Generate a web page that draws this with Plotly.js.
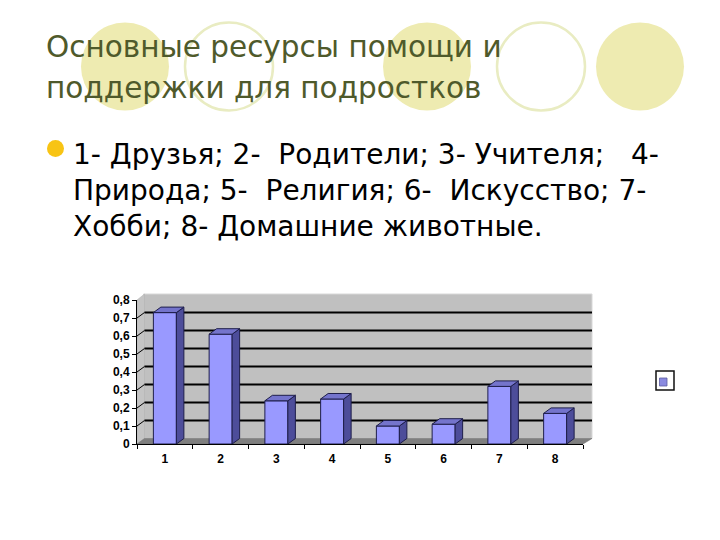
<!DOCTYPE html>
<html>
<head>
<meta charset="utf-8">
<script src="https://cdn.plot.ly/plotly-3.0.1.min.js"></script>
<style>html,body{margin:0;padding:0;background:#fff;}#chart{width:720px;height:540px;}</style>
</head>
<body>
<div id="chart"></div>
<script>
// ---- data ----
const categories = ['1', '2', '3', '4', '5', '6', '7', '8'];
const values = [0.73, 0.61, 0.24, 0.25, 0.10, 0.11, 0.32, 0.17];
const yTicks = [0, 0.1, 0.2, 0.3, 0.4, 0.5, 0.6, 0.7, 0.8];
const titleLines = ['Основные ресурсы помощи и', 'поддержки для подростков'];
const bulletLines = [
  '1- Друзья; 2-  Родители; 3- Учителя;   4-',
  'Природа; 5-  Религия; 6-  Искусство; 7-',
  'Хобби; 8- Домашние животные.'
];

// ---- geometry / style ----
const X0 = 137, X1 = 592, Y0 = 294, Y1 = 444;     // paper area in px
const FRONT_RIGHT = 583, FRONT_TOP = 300;         // front axes box
const DX = 7.5, DY = 5.5;                         // 3D depth offset (px)
const YMAX = 0.8;
const DYD = DY * YMAX / (Y1 - FRONT_TOP);         // depth offset in data units
const CAT_PX = (FRONT_RIGHT - X0) / categories.length;
const BAR_PX = 23, W = BAR_PX / 2;
const P = (px, py) => ({x: (px - X0) / (X1 - X0), y: (Y1 - py) / (Y1 - Y0)});
const FONT = 'Liberation Sans, Arial, sans-serif';
const TEXT_FONT = 'DejaVu Sans, Liberation Sans, sans-serif';
const nb = s => s.replace(/ /g, '\u00A0');

const shapes = [];
// decorative circles
[[125, false], [229, true], [427, false], [541, true], [640, false]].forEach(([cx, outline]) => {
  const r = 44, cy = 66.5;
  const a = P(cx - r, cy + r), b = P(cx + r, cy - r);
  shapes.push({type: 'circle', xref: 'paper', yref: 'paper', layer: 'below',
    x0: a.x, y0: a.y, x1: b.x, y1: b.y,
    fillcolor: outline ? 'rgba(0,0,0,0)' : '#EEEBB1',
    line: {color: outline ? '#E9ECC2' : 'rgba(0,0,0,0)', width: outline ? 2.5 : 0}});
});
// bullet dot
{ const a = P(47, 157), b = P(64, 140);
  shapes.push({type: 'circle', xref: 'paper', yref: 'paper', layer: 'below',
    x0: a.x, y0: a.y, x1: b.x, y1: b.y, fillcolor: '#F8C414', line: {width: 0}}); }

// walls & floor
const pth = pts => 'M' + pts.map(([px, py]) => { const q = P(px, py); return q.x + ',' + q.y; }).join(' L') + ' Z';
shapes.push({type: 'path', xref: 'paper', yref: 'paper', layer: 'below',
  path: pth([[X0 + DX - 1, Y1 - DY], [X0 + DX - 1, Y0], [X1, Y0], [X1, Y1 - DY]]),
  fillcolor: '#C0C0C0', line: {color: '#D8D8D8', width: 1}});
shapes.push({type: 'path', xref: 'paper', yref: 'paper', layer: 'below',
  path: pth([[X0, Y1], [X0, FRONT_TOP], [X0 + DX, Y0], [X0 + DX, Y1 - DY]]),
  fillcolor: '#C4C4C4', line: {color: '#B0B0B0', width: 0.5}});
shapes.push({type: 'path', xref: 'paper', yref: 'paper', layer: 'below',
  path: pth([[X0, Y1], [FRONT_RIGHT, Y1], [X1, Y1 - DY], [X0 + DX, Y1 - DY]]),
  fillcolor: '#7F7F7F', line: {color: '#6A6A6A', width: 0.5}});
// gridlines on the back wall and left wall
yTicks.filter(v => v > 0 && v < YMAX).forEach(v => {
  shapes.push({type: 'line', xref: 'paper', yref: 'y', ysizemode: 'pixel', yanchor: v,
    x0: P(X0 + DX, 0).x, x1: 1, y0: DY, y1: DY, layer: 'below',
    line: {color: '#000000', width: 1.8}});
  shapes.push({type: 'line', xref: 'paper', yref: 'y', ysizemode: 'pixel', yanchor: v,
    x0: 0, x1: P(X0 + DX, 0).x, y0: 0, y1: DY, layer: 'below',
    line: {color: '#000000', width: 1}});
});
// 3D side and top faces of bars (anchored at the category position)
categories.forEach((c, i) => {
  const v = values[i];
  shapes.push({type: 'path', xref: 'x', yref: 'y', xsizemode: 'pixel', xanchor: i, layer: 'above',
    path: `M${W},0 L${W + DX},${DYD} L${W + DX},${v + DYD} L${W},${v} Z`,
    fillcolor: '#4D4D9A', line: {color: '#1E1E4A', width: 1}});
  shapes.push({type: 'path', xref: 'x', yref: 'y', xsizemode: 'pixel', xanchor: i, layer: 'above',
    path: `M${-W},${v} L${-W + DX},${v + DYD} L${W + DX},${v + DYD} L${W},${v} Z`,
    fillcolor: '#7474CC', line: {color: '#1E1E4A', width: 1}});
});
// legend-like icon
{ const a = P(656, 390), b = P(674, 371);
  shapes.push({type: 'rect', xref: 'paper', yref: 'paper', x0: a.x, y0: a.y, x1: b.x, y1: b.y,
    fillcolor: '#FFFFFF', line: {color: '#111111', width: 1.5}});
  const c = P(659.5, 386), d = P(667, 378);
  shapes.push({type: 'rect', xref: 'paper', yref: 'paper', x0: c.x, y0: c.y, x1: d.x, y1: d.y,
    fillcolor: '#8A8AE0', line: {color: '#5A5AA0', width: 0.8}}); }

const annotations = [];
const titleY = [46.5, 88.5];
titleLines.forEach((t, i) => {
  const q = P(44, titleY[i]);
  annotations.push({xref: 'paper', yref: 'paper', x: q.x, y: q.y, xanchor: 'left', yanchor: 'middle',
    showarrow: false, text: nb(t), font: {family: TEXT_FONT, size: 29.5, color: '#4F5A2B'}});
});
const bulletY = [154, 190, 226];
bulletLines.forEach((t, i) => {
  const q = P(71, bulletY[i]);
  annotations.push({xref: 'paper', yref: 'paper', x: q.x, y: q.y, xanchor: 'left', yanchor: 'middle',
    showarrow: false, text: nb(t), font: {family: TEXT_FONT, size: 28, color: '#000000'}});
});

const trace = {
  type: 'bar', x: categories, y: values, width: BAR_PX / CAT_PX,
  marker: {color: '#9999FF', line: {color: '#1E1E4A', width: 1}},
  hoverinfo: 'skip'
};

const layout = {
  width: 720, height: 540,
  margin: {l: X0, r: 720 - X1, t: Y0, b: 540 - Y1, pad: 0},
  paper_bgcolor: '#FFFFFF', plot_bgcolor: 'rgba(0,0,0,0)',
  separators: ', ',
  showlegend: false,
  xaxis: {type: 'category', domain: [0, P(FRONT_RIGHT, 0).x], range: [-0.5, categories.length - 0.5],
    showline: true, linecolor: '#000000', linewidth: 1, ticks: 'outside', tickson: 'boundaries',
    ticklen: 4, tickcolor: '#000000', showgrid: false, zeroline: false, ticklabelstandoff: 4,
    tickfont: {family: FONT, size: 12, color: '#000000', weight: 'bold'}},
  yaxis: {domain: [0, P(0, FRONT_TOP).y], range: [0, YMAX], tickvals: yTicks,
    showline: true, linecolor: '#000000', linewidth: 1, ticks: 'outside', ticklen: 4,
    tickcolor: '#000000', showgrid: false, zeroline: false,
    tickfont: {family: FONT, size: 12, color: '#000000', weight: 'bold'}},
  shapes: shapes,
  annotations: annotations
};

Plotly.newPlot('chart', [trace], layout, {staticPlot: true, displayModeBar: false});
</script>
</body>
</html>
